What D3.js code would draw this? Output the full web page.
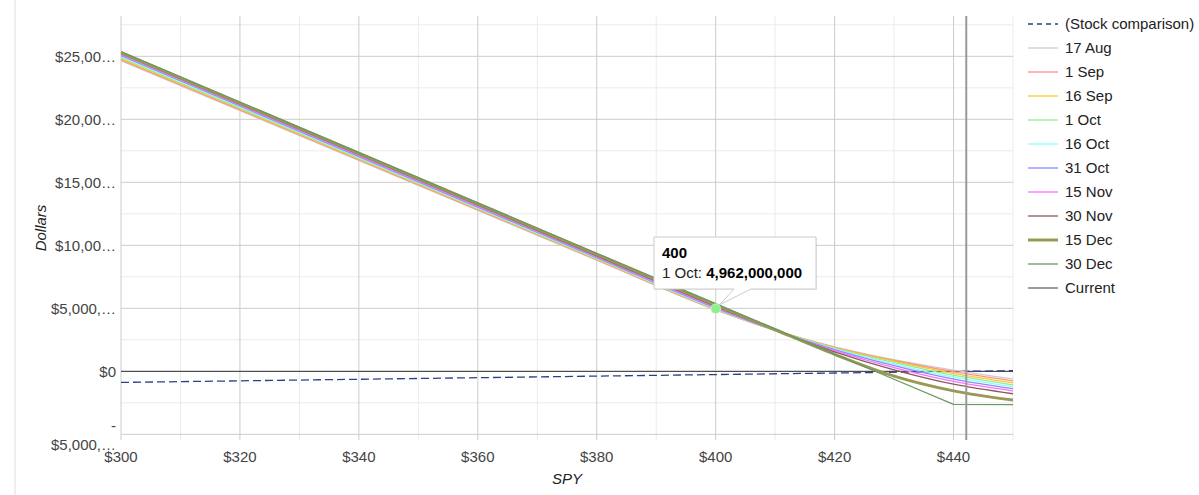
<!DOCTYPE html>
<html><head><meta charset="utf-8">
<script src="https://cdn.jsdelivr.net/npm/d3@7"></script>
<style>
body{margin:0;background:#fff;font-family:Arial,"Liberation Sans",sans-serif}
svg text{font-family:Arial,"Liberation Sans",sans-serif}
</style>
</head><body>
<svg id="chart" width="1199" height="495"></svg>
<script>
// ---- data (values in billions of dollars) ----
const spyPrices = [300, 380, 400, 410, 420, 430, 440, 450];
const seriesNames = ["17 Aug","1 Sep","16 Sep","1 Oct","16 Oct","31 Oct","15 Nov","30 Nov","15 Dec","30 Dec"];
const aug17 = [24.65, 8.82, 4.87, 3.25, 1.95, 0.93, 0.10, -0.60];
const sep1  = [24.73, 8.86, 4.90, 3.25, 1.91, 0.86, -0.03, -0.76];
const sep16 = [24.81, 8.90, 4.93, 3.25, 1.87, 0.79, -0.17, -0.92];
const oct1  = [24.89, 8.94, 4.962, 3.25, 1.83, 0.70, -0.31, -1.07];
const oct16 = [24.98, 8.98, 4.98, 3.25, 1.78, 0.58, -0.46, -1.22];
const oct31 = [25.06, 9.03, 5.02, 3.25, 1.72, 0.45, -0.62, -1.38];
const nov15 = [25.14, 9.09, 5.08, 3.26, 1.65, 0.30, -0.80, -1.55];
const nov30 = [25.22, 9.17, 5.15, 3.27, 1.55, 0.12, -1.02, -1.78];
const dec15 = [25.30, 9.29, 5.28, 3.30, 1.35, -0.38, -1.55, -2.28];
const dec30 = [25.37, 9.37, 5.37, 3.37, 1.37, -0.63, -2.62, -2.65];
const stockPrices = [300, 380, 450];
const stockComparison = [-0.88, -0.38, 0.05];
const currentPrice = 442.14;
const xTickValues = [300, 320, 340, 360, 380, 400, 420, 440];
const xTickLabels = ["$300","$320","$340","$360","$380","$400","$420","$440"];
const yTickValues = [-5, 0, 5, 10, 15, 20, 25];
const yTickLabels = ["-$5,000,…","$0","$5,000,…","$10,00…","$15,00…","$20,00…","$25,00…"];
const tooltipPrice = 400;
const tooltipSeries = "1 Oct";

// ---- styles ----
const seriesValues = [aug17, sep1, sep16, oct1, oct16, oct31, nov15, nov30, dec15, dec30];
const colors = ["#cccccc","#ff8f8f","#ffc825","#8ef08e","#8ffcfc","#8a8aff","#ff70ff","#8a5a5a","#999955","#6a9a62"];
const widths = [1.3,1.3,1.3,1.3,1.3,1.3,1.3,1.3,3,1.3];

const svg = d3.select("#chart");
const L = 121, R = 1013, T = 16, B = 440;
const x = d3.scaleLinear().domain([300, 450]).range([L, R]);
const y = d3.scaleLinear().domain([-5.45, 28.2]).range([B, T]);

// page border
svg.append("rect").attr("x",14).attr("y",0).attr("width",2).attr("height",495).attr("fill","#eeeeee");

// minor grid
const g = svg.append("g");
d3.range(310, 451, 20).forEach(v => g.append("line").attr("x1",x(v)).attr("x2",x(v)).attr("y1",T).attr("y2",B).attr("stroke","#ebebeb"));
d3.range(-2.5, 28, 5).forEach(v => g.append("line").attr("x1",L).attr("x2",R).attr("y1",y(v)).attr("y2",y(v)).attr("stroke","#ebebeb"));
// major grid
xTickValues.forEach(v => g.append("line").attr("x1",x(v)).attr("x2",x(v)).attr("y1",T).attr("y2",B).attr("stroke","#cccccc"));
yTickValues.forEach(v => g.append("line").attr("x1",L).attr("x2",R).attr("y1",y(v)).attr("y2",y(v)).attr("stroke","#cccccc"));

// clip
svg.append("clipPath").attr("id","clip").append("rect").attr("x",L).attr("y",T).attr("width",R-L).attr("height",B-T);
const plot = svg.append("g").attr("clip-path","url(#clip)");

// baseline
plot.append("line").attr("x1",L).attr("x2",R).attr("y1",y(0)).attr("y2",y(0)).attr("stroke","#333").attr("stroke-width",1);

// stock comparison
const stockLine = d3.line().x(d=>x(d[0])).y(d=>y(d[1]));
plot.append("path").datum(stockPrices.map((p,i)=>[p, stockComparison[i]]))
  .attr("d", stockLine).attr("fill","none").attr("stroke","#2c3f86").attr("stroke-width",1.3).attr("stroke-dasharray","8,4");

// series lines
seriesValues.forEach((vals, k) => {
  const curve = seriesNames[k] === "30 Dec" ? d3.curveLinear : d3.curveMonotoneX;
  const line = d3.line().x(d=>x(d[0])).y(d=>y(d[1])).curve(curve);
  plot.append("path").datum(spyPrices.map((p,i)=>[p, vals[i]]))
    .attr("d", line).attr("fill","none").attr("stroke",colors[k]).attr("stroke-width",widths[k]).attr("stroke-linejoin","round");
});

// current price line
plot.append("line").attr("x1",x(currentPrice)).attr("x2",x(currentPrice)).attr("y1",T).attr("y2",B)
  .attr("stroke","#999999").attr("stroke-width",2);

// axes labels
const yAxis = svg.append("g");
yTickValues.forEach((v,i) => {
  const lab = yTickLabels[i];
  const t = yAxis.append("text").attr("x",116).attr("text-anchor","end").attr("font-size",15).attr("fill","#444");
  if (lab.startsWith("-") && lab.length > 3) {
    t.append("tspan").attr("x",116).attr("y",y(v)-3).text("-");
    t.append("tspan").attr("x",116).attr("y",y(v)+16).text(lab.slice(1));
  } else {
    t.attr("y", y(v)).attr("dy","0.35em").text(lab);
  }
});
xTickValues.forEach((v,i) => {
  svg.append("text").attr("x",x(v)).attr("y",462).attr("text-anchor","middle").attr("font-size",15).attr("fill","#444").text(xTickLabels[i]);
});
svg.append("text").attr("x",(L+R)/2).attr("y",484).attr("text-anchor","middle").attr("font-size",15)
  .attr("font-style","italic").attr("fill","#222").text("SPY");
svg.append("text").attr("transform",`translate(46,${(T+B)/2}) rotate(-90)`).attr("text-anchor","middle")
  .attr("font-size",15).attr("font-style","italic").attr("fill","#222").text("Dollars");

// legend
const legend = svg.append("g");
const legNames = ["(Stock comparison)"].concat(seriesNames, ["Current"]);
const legColors = ["#2c3f86"].concat(colors, ["#666666"]);
const legWidths = [1.3].concat(widths, [1.3]);
legNames.forEach((n,i) => {
  const yy = 24 + 24*i;
  const ln = legend.append("line").attr("x1",1028).attr("x2",1058).attr("y1",yy).attr("y2",yy)
    .attr("stroke",legColors[i]).attr("stroke-width",legWidths[i]);
  if (i===0) ln.attr("stroke-dasharray","5,4");
  legend.append("text").attr("x",1065).attr("y",yy).attr("dy","0.35em").attr("font-size",15).attr("fill","#222").text(n);
});

// tooltip
const si = seriesNames.indexOf(tooltipSeries);
const tv = seriesValues[si][spyPrices.indexOf(tooltipPrice)];
const px = x(tooltipPrice), py = y(tv);
svg.append("circle").attr("cx",px).attr("cy",py).attr("r",5).attr("fill",colors[si]).attr("stroke","#fff").attr("stroke-width",0.5);
const tip = svg.append("g");
const bx = 654, by = 237, bw = 162, bh = 52;
tip.append("rect").attr("x",bx+1).attr("y",by+1).attr("width",bw).attr("height",bh).attr("fill","#000").attr("opacity",0.08);
tip.append("path").attr("d",`M${bx},${by} H${bx+bw} V${by+bh} H${bx+97} L${px+4},${py-4} L${bx+80},${by+bh} H${bx} Z`)
  .attr("fill","#fff").attr("stroke","#cccccc").attr("stroke-width",1);
tip.append("text").attr("x",bx+8).attr("y",by+21).attr("font-size",15).attr("font-weight","bold").attr("fill","#000").text(String(tooltipPrice));
const t2 = tip.append("text").attr("x",bx+8).attr("y",by+41).attr("font-size",15).attr("fill","#222");
t2.append("tspan").text(tooltipSeries + ": ");
t2.append("tspan").attr("font-weight","bold").attr("fill","#000").text(d3.format(",")(Math.round(tv*1e9)));
</script>
</body></html>
